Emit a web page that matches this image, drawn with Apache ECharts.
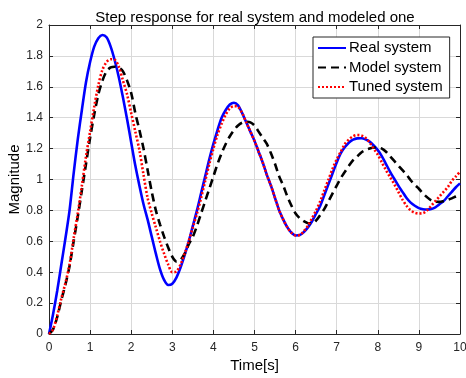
<!DOCTYPE html>
<html>
<head>
<meta charset="utf-8">
<script src="https://cdn.jsdelivr.net/npm/echarts@6/dist/echarts.min.js"></script>
<style>
html,body{margin:0;padding:0;background:#fff;}
#chart{width:466px;height:378px;}
</style>
</head>
<body>
<div id="chart"></div>
<script>
var titleText = 'Step response for real system and modeled one';
var xName = 'Time[s]';
var yName = 'Magnitude';
var seriesNames = ['Real system', 'Model system', 'Tuned system'];

var timeS = [0,0.1,0.2,0.3,0.4,0.5,0.6,0.7,0.8,0.9,
1,1.1,1.2,1.3,1.4,1.5,1.6,1.7,1.8,1.9,
2,2.1,2.2,2.3,2.4,2.5,2.6,2.7,2.8,2.9,
3,3.1,3.2,3.3,3.4,3.5,3.6,3.7,3.8,3.9,
4,4.1,4.2,4.3,4.4,4.5,4.6,4.7,4.8,4.9,
5,5.1,5.2,5.3,5.4,5.5,5.6,5.7,5.8,5.9,
6,6.1,6.2,6.3,6.4,6.5,6.6,6.7,6.8,6.9,
7,7.1,7.2,7.3,7.4,7.5,7.6,7.7,7.8,7.9,
8,8.1,8.2,8.3,8.4,8.5,8.6,8.7,8.8,8.9,
9,9.1,9.2,9.3,9.4,9.5,9.6,9.7,9.8,9.9,10];

var realSystem = [0,0.13,0.28,0.45,0.62,0.80,1.04,1.26,1.45,1.63,
1.76,1.86,1.915,1.935,1.92,1.86,1.77,1.66,1.53,1.39,
1.24,1.09,0.96,0.84,0.74,0.63,0.52,0.42,0.35,0.317,
0.325,0.365,0.43,0.51,0.60,0.70,0.80,0.91,1.02,1.13,
1.23,1.32,1.40,1.45,1.485,1.497,1.48,1.43,1.37,1.31,
1.25,1.18,1.11,1.03,0.96,0.88,0.80,0.74,0.69,0.655,
0.638,0.64,0.66,0.69,0.73,0.78,0.83,0.90,0.97,1.04,
1.11,1.17,1.21,1.24,1.258,1.266,1.267,1.26,1.245,1.22,
1.19,1.15,1.10,1.05,1.005,0.96,0.92,0.88,0.85,0.83,
0.815,0.808,0.806,0.809,0.82,0.84,0.86,0.89,0.92,0.95,0.975];

var modelSystem = [0,0.03,0.11,0.22,0.32,0.44,0.60,0.76,0.93,1.10,
1.27,1.42,1.55,1.64,1.70,1.725,1.73,1.725,1.70,1.64,
1.56,1.43,1.32,1.20,1.06,0.92,0.80,0.71,0.63,0.56,
0.50,0.47,0.48,0.52,0.58,0.63,0.70,0.78,0.86,0.94,
1.02,1.10,1.17,1.23,1.28,1.32,1.35,1.368,1.374,1.37,
1.35,1.31,1.27,1.23,1.17,1.10,1.02,0.96,0.89,0.83,
0.78,0.75,0.73,0.717,0.716,0.735,0.77,0.81,0.86,0.91,
0.96,1.01,1.05,1.09,1.125,1.15,1.175,1.19,1.20,1.207,
1.207,1.20,1.18,1.15,1.12,1.09,1.06,1.03,0.995,0.965,
0.94,0.91,0.885,0.865,0.856,0.855,0.86,0.868,0.878,0.89,0.90];

var tunedSystem = [0,0.03,0.12,0.23,0.33,0.45,0.62,0.78,0.96,1.15,
1.31,1.47,1.61,1.71,1.76,1.778,1.775,1.73,1.64,1.55,
1.43,1.31,1.19,1.03,0.88,0.78,0.69,0.60,0.52,0.45,
0.40,0.405,0.45,0.52,0.60,0.69,0.78,0.88,0.99,1.10,
1.20,1.29,1.36,1.42,1.46,1.475,1.47,1.43,1.37,1.31,
1.25,1.18,1.11,1.03,0.96,0.88,0.80,0.74,0.69,0.655,
0.638,0.64,0.665,0.70,0.75,0.80,0.86,0.93,1.00,1.07,
1.13,1.18,1.23,1.26,1.28,1.288,1.285,1.27,1.24,1.20,
1.16,1.11,1.06,1.015,0.97,0.92,0.87,0.83,0.80,0.785,
0.78,0.782,0.80,0.83,0.86,0.89,0.92,0.95,0.99,1.02,1.05];

function pairs(ys){ return timeS.map(function(t,i){ return [t, ys[i]]; }); }

var FONT = '"Liberation Sans", Arial, sans-serif';
var AX = '#262626';
var chart = echarts.init(document.getElementById('chart'), null, {renderer:'canvas'});
var gridLine = {show:true, lineStyle:{color:'#d9d9d9', width:1}};
chart.setOption({
  animation:false,
  backgroundColor:'#ffffff',
  textStyle:{fontFamily:FONT},
  title:{text:titleText, left:250, textAlign:'center', top:5,
    textStyle:{fontSize:15, fontWeight:'normal', color:'#000', fontFamily:FONT}},
  grid:{left:49, right:6, top:25, bottom:44, show:false, containLabel:false, outerBoundsMode:'none'},
  legend:{
    orient:'vertical', left:313, top:37,
    backgroundColor:'#fff', borderColor:AX, borderWidth:1,
    padding:[3,7,3,4], itemGap:3.5, itemWidth:28, itemHeight:14,
    itemStyle:{opacity:0},
    textStyle:{fontSize:15, lineHeight:16, color:'#000', fontFamily:FONT, padding:[0,0,0,-2]},
    data:seriesNames
  },
  xAxis:[{
    type:'value', min:0, max:10, interval:1, position:'bottom',
    name:xName, nameLocation:'middle', nameGap:24, nameMoveOverlap:false,
    nameTextStyle:{fontSize:15, color:'#000', fontFamily:FONT},
    axisLine:{show:true, onZero:false, lineStyle:{color:AX, width:1}},
    axisTick:{show:true, inside:true, length:4, lineStyle:{color:AX}},
    axisLabel:{fontSize:12, color:AX, margin:8, fontFamily:FONT},
    splitLine:gridLine
  },{
    type:'value', min:0, max:10, interval:1, position:'top',
    axisLine:{show:true, onZero:false, lineStyle:{color:AX, width:1}},
    axisTick:{show:true, inside:true, length:4, lineStyle:{color:AX}},
    axisLabel:{show:false}, splitLine:{show:false}
  }],
  yAxis:[{
    type:'value', min:0, max:2, interval:0.2, position:'left',
    name:yName, nameLocation:'middle', nameGap:27, nameRotate:90, nameMoveOverlap:false,
    nameTextStyle:{fontSize:15, color:'#000', fontFamily:FONT},
    axisLine:{show:true, onZero:false, lineStyle:{color:AX, width:1}},
    axisTick:{show:true, inside:true, length:4, lineStyle:{color:AX}},
    axisLabel:{fontSize:12, color:AX, margin:6, fontFamily:FONT,
      formatter:function(v){ return String(Math.round(v*10)/10); }},
    splitLine:gridLine
  },{
    type:'value', min:0, max:2, interval:0.2, position:'right',
    axisLine:{show:true, onZero:false, lineStyle:{color:AX, width:1}},
    axisTick:{show:true, inside:true, length:4, lineStyle:{color:AX}},
    axisLabel:{show:false}, splitLine:{show:false}
  }],
  series:[
    {name:seriesNames[0], type:'line', data:pairs(realSystem), smooth:0.3, symbol:'none',
      lineStyle:{color:'#0000ff', width:2.6}, itemStyle:{color:'#0000ff'}, z:3},
    {name:seriesNames[1], type:'line', data:pairs(modelSystem), smooth:0.3, symbol:'none',
      lineStyle:{color:'#000000', width:2.6, type:[8,5]}, itemStyle:{color:'#000'}, z:4},
    {name:seriesNames[2], type:'line', data:pairs(tunedSystem), smooth:0.3, symbol:'none',
      lineStyle:{color:'#ff0000', width:2.6, type:[2,2]}, itemStyle:{color:'#ff0000'}, z:5}
  ]
});
</script>
</body>
</html>
